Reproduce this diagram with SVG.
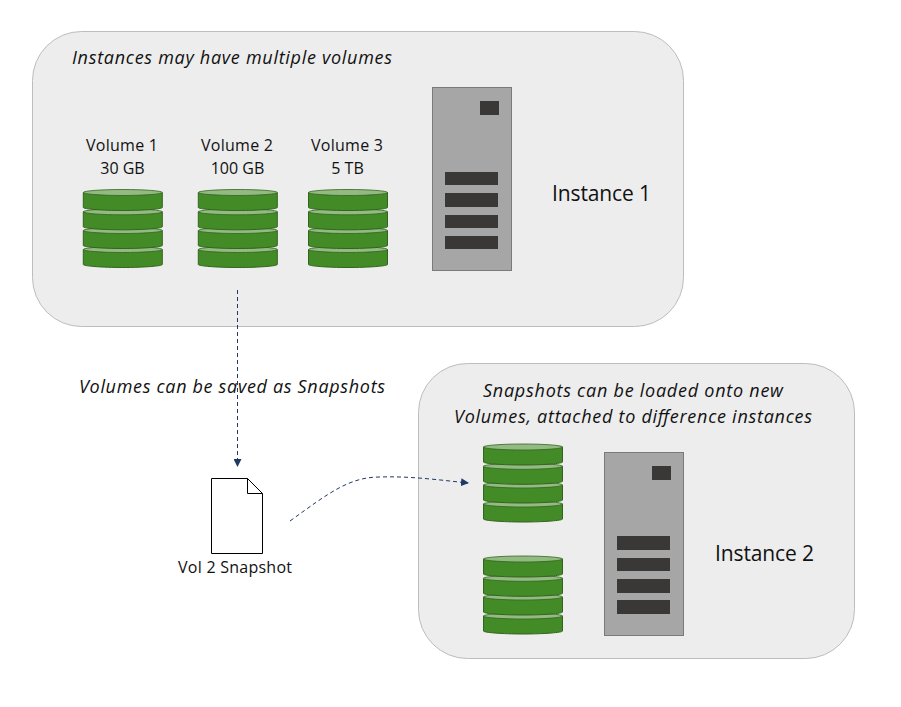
<svg xmlns="http://www.w3.org/2000/svg" width="901" height="707" viewBox="0 0 901 707">
<style>
text{font-family:"Open Sans","Noto Sans","Liberation Sans",sans-serif;fill:#111;text-anchor:middle}
.l{font-size:16px}.i{font-size:18px;font-style:italic}.t{font-size:21px}
.panel{fill:#ededed;stroke:#bdbdbd;stroke-width:1}
.body{fill:#438b26;stroke:#32641d;stroke-width:1}
.lid{fill:#92ba82;stroke:#32641d;stroke-width:.8}
.case{fill:#a6a6a6;stroke:#7a7a7a;stroke-width:1}
.slot{fill:#3a3836}
.conn{fill:none;stroke:#203864;stroke-width:1;stroke-dasharray:4 3}
</style>
<defs>
<marker id="arrow" markerUnits="userSpaceOnUse" markerWidth="8" markerHeight="8" refX="7" refY="4" orient="auto"><path d="M0 0L8 4L0 8Z" fill="#203864"/></marker>
<g id="disc"><path class="body" d="M0 3V18C0 19.500 18 21 39.500 21S79 19.500 79 18V3Z"/><ellipse class="lid" cx="39.500" cy="3" rx="39.500" ry="3"/></g>
<g id="stack"><use href="#disc" y="57"/><use href="#disc" y="38"/><use href="#disc" y="19.300"/><use href="#disc" y="0"/></g>
</defs>
<g id="instance1">
<rect class="panel" x="32.500" y="31.500" width="651" height="295" rx="49" ry="49"/>
<text class="i" x="232" y="64" textLength="320">Instances may have multiple volumes</text>
<rect class="case" x="432.500" y="87.500" width="79" height="183"/>
<rect class="slot" x="480" y="101" width="19" height="14"/>
<rect class="slot" x="445" y="172" width="53" height="13"/>
<rect class="slot" x="445" y="193" width="53" height="14"/>
<rect class="slot" x="445" y="215" width="53" height="13"/>
<rect class="slot" x="445" y="236" width="53" height="13"/>
<text class="t" x="601.500" y="200.500" textLength="99">Instance 1</text>
</g>
<g id="volume1"><text class="l" x="122" y="151" textLength="72">Volume 1</text><text class="l" x="122.500" y="174">30 GB</text><use href="#stack" x="83.300" y="189.500"/></g>
<g id="volume2"><text class="l" x="237" y="151" textLength="72">Volume 2</text><text class="l" x="237.500" y="174">100 GB</text><use href="#stack" x="198.300" y="189.500"/></g>
<g id="volume3"><text class="l" x="347" y="151" textLength="72">Volume 3</text><text class="l" x="347.500" y="174">5 TB</text><use href="#stack" x="308.500" y="189.500"/></g>
<g id="instance2">
<rect class="panel" x="418.500" y="363.500" width="436" height="295" rx="49" ry="49"/>
<text class="i" x="633" y="397" textLength="300">Snapshots can be loaded onto new</text>
<text class="i" x="633" y="423" textLength="358">Volumes, attached to difference instances</text>
<use href="#stack" x="483.500" y="444"/>
<use href="#stack" x="483.500" y="556"/>
<rect class="case" x="604.500" y="452.500" width="79" height="183"/>
<rect class="slot" x="652" y="466" width="19" height="14"/>
<rect class="slot" x="617" y="536" width="53" height="14"/>
<rect class="slot" x="617" y="558" width="53" height="13"/>
<rect class="slot" x="617" y="579" width="53" height="14"/>
<rect class="slot" x="617" y="600" width="53" height="14"/>
<text class="t" x="764.500" y="560.500" textLength="99">Instance 2</text>
</g>
<g id="snapshot">
<path d="M211.500 478.500H247.500L262.500 493.500V553.500H211.500Z" fill="#fff" stroke="#000" stroke-width="1"/>
<path d="M247.500 478.500V493.500H262.500" fill="none" stroke="#000" stroke-width="1"/>
<text class="l" x="235" y="573" textLength="114">Vol 2 Snapshot</text>
</g>
<text class="i" x="232" y="393" textLength="306">Volumes can be saved as Snapshots</text>
<g id="connectors">
<path class="conn" d="M237.500 290V466" marker-end="url(#arrow)"/>
<path class="conn" d="M290 521C330 492 350 477 380 477C410 476 440 480 468 483" marker-end="url(#arrow)"/>
</g>
</svg>
